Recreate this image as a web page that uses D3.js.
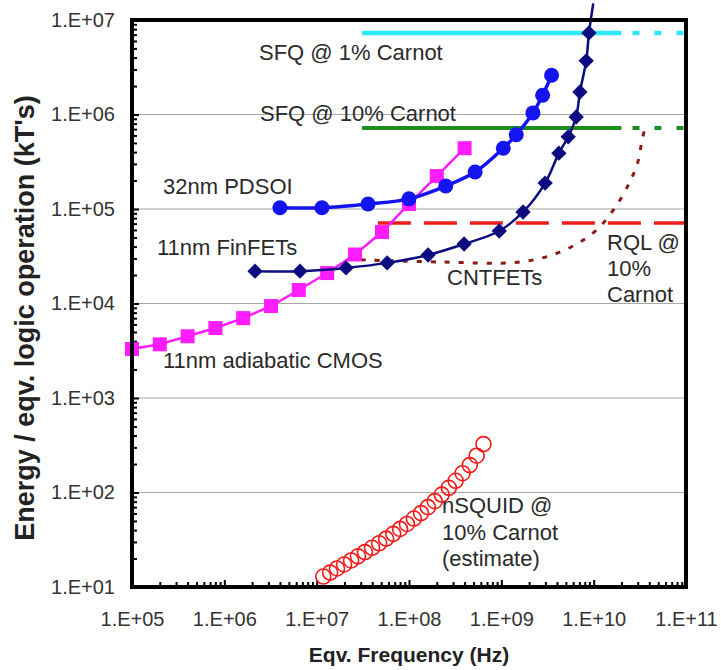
<!DOCTYPE html>
<html>
<head>
<meta charset="utf-8">
<script src="https://cdn.jsdelivr.net/npm/d3@7"></script>
<style>
  body { margin: 0; background: #fff; }
  text { font-family: "Liberation Sans", Arial, sans-serif; }
</style>
</head>
<body>
<script>

// data (x = Hz, y = kT's)
var pdsoiFreq   = [4.0e6, 1.14e7, 3.6e7, 1.0e8, 2.5e8, 5.2e8, 1.05e9, 1.45e9, 2.2e9, 2.8e9, 3.5e9];
var pdsoiEnergy = [1.03e5, 1.03e5, 1.13e5, 1.28e5, 1.75e5, 2.46e5, 4.4e5, 6.1e5, 1.04e6, 1.6e6, 2.6e6];

var finfetFreq   = [2.15e6, 6.6e6, 2.08e7, 5.8e7, 1.61e8, 3.95e8, 9.5e8, 1.72e9, 2.98e9, 4.2e9, 5.3e9, 6.46e9, 7.1e9, 8.3e9, 8.9e9, 9.9e9];
var finfetEnergy = [2.2e4, 2.2e4, 2.38e4, 2.69e4, 3.26e4, 4.26e4, 5.85e4, 9.3e4, 1.88e5, 3.9e5, 5.8e5, 9.4e5, 1.73e6, 3.7e6, 7.3e6, 1.5e7];

var cmosFreq   = [1e5, 2e5, 4e5, 8e5, 1.6e6, 3.2e6, 6.4e6, 1.3e7, 2.6e7, 5.1e7, 1.0e8, 2.0e8, 4.0e8];
var cmosEnergy = [3.3e3, 3.7e3, 4.5e3, 5.5e3, 7.0e3, 9.4e3, 1.39e4, 2.1e4, 3.3e4, 5.7e4, 1.13e5, 2.23e5, 4.4e5];

var nsquidFreq   = [1.18e7, 1.4e7, 1.66e7, 1.98e7, 2.36e7, 2.8e7, 3.33e7, 3.98e7, 4.75e7, 5.65e7, 6.75e7, 8.0e7,
                    9.5e7, 1.13e8, 1.35e8, 1.6e8, 1.9e8, 2.26e8, 2.7e8, 3.2e8, 3.8e8, 4.55e8, 5.4e8, 6.4e8];
var nsquidEnergy = [12.9, 14.2, 15.7, 17.3, 19.1, 21.1, 23.4, 26.0, 29.0, 32.5, 36.5, 41.2,
                    46.5, 53.0, 60.5, 70.0, 81.0, 95.0, 112, 133, 160, 195, 245, 325];

var sfqFreq      = [3.1e7, 2.0e10];
var sfqExtFreq   = [2.0e10, 1.0e11];
var sfq1Energy   = [7.3e6, 7.3e6];
var sfq10Energy  = [7.2e5, 7.2e5];

var rqlFreq   = [4.6e7, 1.0e11];
var rqlEnergy = [7.1e4, 7.1e4];

var cntDotFreq   = [3.0e7, 2.2e8, 1.6e9, 4.3e9, 9.9e9, 1.7e10, 2.5e10, 3.0e10, 3.35e10, 3.6e10];
var cntDotEnergy = [2.9e4, 2.75e4, 2.75e4, 3.5e4, 5.6e4, 1.03e5, 2.0e5, 3.1e5, 5.4e5, 7.2e5];

var xMajor = [1e5, 1e6, 1e7, 1e8, 1e9, 1e10, 1e11];
var yMajor = [1e1, 1e2, 1e3, 1e4, 1e5, 1e6, 1e7];

// dimensions
var margin = {top: 20, right: 35, bottom: 83, left: 132},
    width = 721 - margin.left - margin.right,
    height = 670 - margin.top - margin.bottom;

var svg = d3.select("body")
    .append("svg")
    .attr("width", 721)
    .attr("height", 670);

var g = svg.append("g")
    .attr("transform", "translate(" + margin.left + "," + margin.top + ")");

var x = d3.scaleLog().domain([1e5, 1e11]).range([0, width]),
    y = d3.scaleLog().domain([1e1, 1e7]).range([height, 0]);

function zip(xs, ys) {
    return xs.map(function(v, i) { return {f: v, e: ys[i]}; });
}

// minor ticks 2..9 inside each decade
function minors(majors) {
    var out = [];
    majors.slice(0, -1).forEach(function(m) {
        for (var k = 2; k < 10; k++) out.push(m * k);
    });
    return out;
}

function sci(d) {
    var p = Math.round(Math.log10(d));
    return "1.E+" + (p < 10 ? "0" + p : p);
}

// gridlines
g.selectAll(".grid")
    .data(yMajor.slice(1, -1))
    .enter().append("line")
    .attr("x1", 0).attr("x2", width)
    .attr("y1", function(d) { return y(d); })
    .attr("y2", function(d) { return y(d); })
    .attr("stroke", "#a8a8a8")
    .attr("stroke-width", 1.2);

// axes
var yAxis = g.append("g")
    .call(d3.axisLeft(y).tickValues(yMajor).tickFormat(sci).tickSize(-7).tickPadding(17));
var yMinor = g.append("g")
    .call(d3.axisLeft(y).tickValues(minors(yMajor)).tickFormat("").tickSize(-5));
var xAxis = g.append("g")
    .attr("transform", "translate(0," + height + ")")
    .call(d3.axisBottom(x).tickValues(xMajor).tickFormat(sci).tickSize(-7).tickPadding(25));
var xMinor = g.append("g")
    .attr("transform", "translate(0," + height + ")")
    .call(d3.axisBottom(x).tickValues(minors(xMajor)).tickFormat("").tickSize(-5));

[yAxis, yMinor, xAxis, xMinor].forEach(function(a) {
    a.select(".domain").remove();
    a.selectAll("line").attr("stroke", "#000").attr("stroke-width", 2);
    a.selectAll("text")
        .style("font-family", "'Liberation Sans', Arial, sans-serif")
        .style("font-size", "20px")
        .attr("fill", "#333");
});

// SFQ lines
var flat = d3.line()
    .x(function(d) { return x(d.f); })
    .y(function(d) { return y(d.e); });

g.append("path").datum(zip(sfqFreq, sfq1Energy))
    .attr("d", flat).attr("fill", "none")
    .attr("stroke", "#2ee8f8").attr("stroke-width", 4.5);
g.append("path").datum(zip(sfqExtFreq, sfq1Energy))
    .attr("d", flat).attr("fill", "none")
    .attr("stroke", "#2ee8f8").attr("stroke-width", 4.5)
    .attr("stroke-dasharray", "7,15").attr("stroke-dashoffset", 11);

g.append("path").datum(zip(sfqFreq, sfq10Energy))
    .attr("d", flat).attr("fill", "none")
    .attr("stroke", "#1e8c1e").attr("stroke-width", 4);
g.append("path").datum(zip(sfqExtFreq, sfq10Energy))
    .attr("d", flat).attr("fill", "none")
    .attr("stroke", "#1e8c1e").attr("stroke-width", 4)
    .attr("stroke-dasharray", "7,15").attr("stroke-dashoffset", 11);

// RQL dashed line
g.append("path").datum(zip(rqlFreq, rqlEnergy))
    .attr("d", flat).attr("fill", "none")
    .attr("stroke", "#ee1c1c").attr("stroke-width", 3.5)
    .attr("stroke-dasharray", "33,13");

// dotted CNTFET/RQL curve
var smooth = d3.line()
    .curve(d3.curveCatmullRom.alpha(0.5))
    .x(function(d) { return x(d.f); })
    .y(function(d) { return y(d.e); });

g.append("path").datum(zip(cntDotFreq, cntDotEnergy))
    .attr("d", smooth).attr("fill", "none")
    .attr("stroke", "#8b1a1a").attr("stroke-width", 3)
    .attr("stroke-dasharray", "5,9");

// 11nm adiabatic CMOS
var cmos = zip(cmosFreq, cmosEnergy);
g.append("path").datum(cmos)
    .attr("d", flat).attr("fill", "none")
    .attr("stroke", "#ff1cff").attr("stroke-width", 2.5);
g.selectAll(".cmos")
    .data(cmos).enter().append("rect")
    .attr("x", function(d) { return x(d.f) - 7; })
    .attr("y", function(d) { return y(d.e) - 7; })
    .attr("width", 14).attr("height", 14)
    .attr("fill", "#ff1cff");

// nSQUID circles
g.selectAll(".nsquid")
    .data(zip(nsquidFreq, nsquidEnergy)).enter().append("circle")
    .attr("cx", function(d) { return x(d.f); })
    .attr("cy", function(d) { return y(d.e); })
    .attr("r", 7.5)
    .attr("fill", "none")
    .attr("stroke", "#f01a1a").attr("stroke-width", 1.6);

// 32nm PDSOI
var pdsoi = zip(pdsoiFreq, pdsoiEnergy);
g.append("path").datum(pdsoi)
    .attr("d", smooth).attr("fill", "none")
    .attr("stroke", "#1414f0").attr("stroke-width", 3.5);
g.selectAll(".pdsoi")
    .data(pdsoi).enter().append("circle")
    .attr("cx", function(d) { return x(d.f); })
    .attr("cy", function(d) { return y(d.e); })
    .attr("r", 7.5)
    .attr("fill", "#1414f0");

// 11nm FinFETs / CNTFETs
var finfet = zip(finfetFreq, finfetEnergy);
g.append("path").datum(finfet)
    .attr("d", smooth).attr("fill", "none")
    .attr("stroke", "#0c0c80").attr("stroke-width", 2.5);
g.selectAll(".finfet")
    .data(finfet.filter(function(d) { return d.e <= 1e7; })).enter().append("path")
    .attr("d", d3.symbol().type(d3.symbolDiamond2).size(150))
    .attr("transform", function(d) { return "translate(" + x(d.f) + "," + y(d.e) + ")"; })
    .attr("fill", "#0c0c80");

// plot frame
g.append("rect")
    .attr("width", width).attr("height", height)
    .attr("fill", "none")
    .attr("stroke", "#000").attr("stroke-width", 4);

// series labels
var labels = [
    {t: "SFQ @ 1% Carnot", x: 259, y: 60},
    {t: "SFQ @ 10% Carnot", x: 260, y: 121},
    {t: "32nm PDSOI", x: 163, y: 194},
    {t: "11nm FinFETs", x: 157, y: 255},
    {t: "11nm adiabatic CMOS", x: 163, y: 368},
    {t: "CNTFETs", x: 447, y: 285},
    {t: "RQL @", x: 607, y: 250},
    {t: "10%", x: 607, y: 276},
    {t: "Carnot", x: 607, y: 302},
    {t: "nSQUID @", x: 442, y: 513},
    {t: "10% Carnot", x: 442, y: 540},
    {t: "(estimate)", x: 442, y: 566}
];
svg.selectAll(".lbl")
    .data(labels).enter().append("text")
    .attr("x", function(d) { return d.x; })
    .attr("y", function(d) { return d.y; })
    .style("font-size", "22px")
    .attr("fill", "#2a2a2a")
    .text(function(d) { return d.t; });

// axis titles
svg.append("text")
    .attr("x", margin.left + width / 2)
    .attr("y", 662)
    .style("text-anchor", "middle")
    .style("font-size", "21px")
    .style("font-weight", "bold")
    .attr("fill", "#222")
    .text("Eqv. Frequency (Hz)");

svg.append("text")
    .attr("transform", "translate(34," + 318 + ") rotate(-90)")
    .style("text-anchor", "middle")
    .style("font-size", "27px")
    .style("font-weight", "bold")
    .attr("fill", "#222")
    .text("Energy / eqv. logic operation (kT's)");

</script>
</body>
</html>
